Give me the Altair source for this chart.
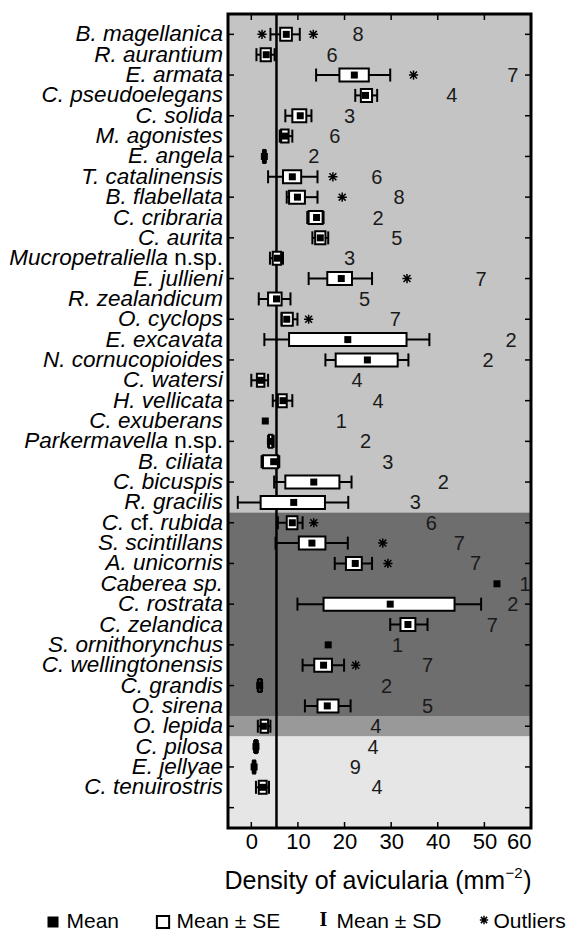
import altair as alt
import pandas as pd
import numpy as np

# ---------------- data ----------------
species = [
    "B. magellanica", "R. aurantium", "E. armata", "C. pseudoelegans", "C. solida",
    "M. agonistes", "E. angela", "T. catalinensis", "B. flabellata", "C. cribraria",
    "C. aurita", "Mucropetraliella n.sp.", "E. jullieni", "R. zealandicum", "O. cyclops",
    "E. excavata", "N. cornucopioides", "C. watersi", "H. vellicata", "C. exuberans",
    "Parkermavella n.sp.", "B. ciliata", "C. bicuspis", "R. gracilis", "C. cf. rubida",
    "S. scintillans", "A. unicornis", "Caberea sp.", "C. rostrata", "C. zelandica",
    "S. ornithorynchus", "C. wellingtonensis", "C. grandis", "O. sirena", "O. lepida",
    "C. pilosa", "E. jellyae", "C. tenuirostris",
]
mean = [7.5, 3.2, 22.1, 24.5, 10.5, 7.2, 2.8, 8.8, 9.9, 14.0,
        14.8, 5.6, 19.3, 5.4, 7.6, 20.7, 24.9, 2.0, 6.8, 3.0,
        4.1, 4.8, 13.4, 9.1, 8.8, 13.0, 22.3, 52.7, 29.8, 33.6,
        16.5, 15.5, 1.8, 16.3, 2.6, 1.0, 0.6, 2.4]
se_lo = [6.2, 2.0, 18.9, 23.5, 8.8, 6.4, 2.6, 6.8, 8.1, 12.3,
         13.7, 4.6, 16.3, 3.6, 6.5, 8.1, 18.1, 1.2, 5.7, None,
         3.8, 2.5, 7.3, 2.0, 7.6, 10.2, 20.3, None, 15.5, 32.0,
         None, 13.5, 1.6, 14.2, 2.0, 0.8, 0.4, 1.6]
se_hi = [8.7, 4.2, 25.2, 25.9, 11.8, 8.0, 3.0, 10.7, 11.5, 15.3,
         15.9, 6.4, 21.6, 6.5, 8.9, 33.3, 31.4, 2.8, 7.6, None,
         4.5, 5.7, 18.9, 15.8, 9.9, 15.9, 23.7, None, 43.6, 35.2,
         None, 17.3, 2.1, 18.7, 3.6, 1.2, 0.8, 3.3]
sd_lo = [4.1, 1.1, 13.9, 22.3, 7.3, 6.1, 2.5, 3.6, 7.6, 12.0,
         13.1, 4.0, 12.3, 1.6, 6.5, 2.8, 15.9, 0.0, 4.6, None,
         3.6, 2.2, 4.9, -2.9, 5.7, 5.2, 17.9, None, 9.9, 29.8,
         None, 11.0, 1.4, 11.5, 1.4, 0.6, 0.3, 1.0]
sd_hi = [10.4, 5.0, 29.8, 27.0, 12.9, 8.8, 3.1, 14.2, 14.2, 15.5,
         16.5, 6.8, 25.9, 8.4, 9.9, 38.2, 33.7, 3.6, 8.8, None,
         4.8, 6.0, 21.5, 20.8, 11.0, 20.7, 25.9, None, 49.3, 37.8,
         None, 19.9, 2.3, 21.3, 4.1, 1.4, 0.9, 3.8]
n_count = [8, 6, 7, 4, 3, 6, 2, 6, 8, 2,
           5, 3, 7, 5, 7, 2, 2, 4, 4, 1,
           2, 3, 2, 3, 6, 7, 7, 1, 2, 7,
           1, 7, 2, 5, 4, 4, 9, 4]
n_xpos = [22.9, 17.3, 56.1, 43.0, 21.1, 17.9, 13.4, 26.9, 31.7, 27.2,
          31.2, 21.1, 49.3, 24.3, 30.9, 55.7, 50.8, 22.7, 27.2, 19.3,
          24.5, 29.3, 41.2, 35.2, 38.6, 44.6, 48.1, 58.7, 56.1, 51.7,
          31.4, 37.8, 29.0, 37.8, 26.7, 26.1, 22.3, 27.0]
outlier_row = [1, 1, 3, 8, 9, 13, 15, 25, 26, 27, 32]
outlier_val = [2.3, 13.3, 34.8, 17.5, 19.5, 33.4, 12.3, 13.4, 28.2, 29.3, 22.4]
reference_value = [5.4]
band_start = [0, 24.5, 34.5, 35.5]
band_end = [24.5, 34.5, 35.5, 40]
band_color = ["#c4c4c4", "#6e6e6e", "#999999", "#e6e6e6"]
x_ticks = [0, 10, 20, 30, 40, 50, 60]
y_ticks = list(range(1, 40, 2))
legend_labels = ["Mean", "Mean \u00b1 SE", "Mean \u00b1 SD", "Outliers"]
title_main = "Density of avicularia (mm"
title_sup = "\u22122"
title_close = ")"

# ---------------- layout ----------------
W, H = 303, 814
X0, X1 = -5, 60
FONT = "Liberation Sans"
LABEL_SIZE = 22.5

def px2v(px):
    return X0 + px * (X1 - X0) / W

CW = {' ': .278, '.': .278, 'a': .556, 'b': .556, 'c': .5, 'd': .556, 'e': .556, 'f': .278,
      'g': .556, 'h': .556, 'i': .222, 'j': .222, 'k': .5, 'l': .222, 'm': .833, 'n': .556,
      'o': .556, 'p': .556, 'q': .556, 'r': .333, 's': .5, 't': .278, 'u': .556, 'v': .5,
      'w': .722, 'x': .5, 'y': .5, 'z': .5, 'C': .722, 'D': .722, '(': .333, ')': .333}

def tw(s, size):
    return sum(CW.get(ch, .6) for ch in s) * size

label_parts = {
    "Mucropetraliella n.sp.": [("Mucropetraliella", True), ("n.sp.", False)],
    "Parkermavella n.sp.": [("Parkermavella", True), ("n.sp.", False)],
    "C. cf. rubida": [("C.", True), ("cf.", False), ("rubida", True)],
}

rows = list(range(1, len(species) + 1))
df = pd.DataFrame({"row": rows, "species": species, "mean": mean,
                   "se_lo": se_lo, "se_hi": se_hi, "sd_lo": sd_lo, "sd_hi": sd_hi,
                   "n": n_count, "npos": n_xpos})
df_err = df.dropna(subset=["se_lo"]).copy()
df_err["ylo"] = df_err["row"] - 0.32
df_err["yhi"] = df_err["row"] + 0.32
caps = pd.concat([
    pd.DataFrame({"val": df_err["sd_lo"], "ylo": df_err["ylo"], "yhi": df_err["yhi"]}),
    pd.DataFrame({"val": df_err["sd_hi"], "ylo": df_err["ylo"], "yhi": df_err["yhi"]}),
])
df_out = pd.DataFrame({"row": outlier_row, "val": outlier_val})
df_bands = pd.DataFrame({"y0": band_start, "y1": band_end, "c": band_color})

seg_rows = []
for r, name in zip(rows, species):
    parts = label_parts.get(name, [(name, True)])
    right = -5.0
    for text, ital in reversed(parts):
        seg_rows.append({"row": r, "text": text, "ital": ital, "xv": px2v(right)})
        right -= tw(text, LABEL_SIZE) + tw(" ", LABEL_SIZE)
df_lab = pd.DataFrame(seg_rows)

x_scale = alt.Scale(domain=[X0, X1], nice=False, zero=False)
y_scale = alt.Scale(domain=[0, 40], reverse=True, nice=False, zero=False)
x_axis = alt.Axis(values=x_ticks, tickSize=0, domain=False, grid=False, labelFontSize=22,
                  labelFont=FONT, labelColor="black", labelPadding=3, title=None)

def X(f):
    return alt.X(f, scale=x_scale, axis=x_axis)

def Y(f):
    return alt.Y(f, scale=y_scale, axis=None)

bands = alt.Chart(df_bands).mark_rect().encode(
    x=alt.value(0), x2=alt.value(W), y=Y("y0:Q"), y2="y1:Q",
    color=alt.Color("c:N", scale=None))

vline = alt.Chart(pd.DataFrame({"v": reference_value})).mark_rule(
    color="black", strokeWidth=2.5).encode(x=X("v:Q"), y=alt.value(0), y2=alt.value(H))

whisk = alt.Chart(df_err).mark_rule(color="black", strokeWidth=2).encode(
    x=X("sd_lo:Q"), x2="sd_hi:Q", y=Y("row:Q"))
capm = alt.Chart(caps).mark_rule(color="black", strokeWidth=2).encode(
    x=X("val:Q"), y=Y("ylo:Q"), y2="yhi:Q")
box = alt.Chart(df_err).mark_rect(fill="white", stroke="black", strokeWidth=2).encode(
    x=X("se_lo:Q"), x2="se_hi:Q", y=Y("ylo:Q"), y2="yhi:Q")
means = alt.Chart(df).mark_square(size=49, color="black", opacity=1).encode(
    x=X("mean:Q"), y=Y("row:Q"))

star = "M-1,0L1,0M0,-1L0,1M-0.75,-0.75L0.75,0.75M-0.75,0.75L0.75,-0.75"
outl = alt.Chart(df_out).mark_point(shape=star, size=85, filled=False, stroke="black",
                                    strokeWidth=1.5, opacity=1).encode(
    x=X("val:Q"), y=Y("row:Q"))

ncount = alt.Chart(df).mark_text(font=FONT, fontSize=20, color="#1a1a1a",
                                 align="center", baseline="middle", dy=1).encode(
    x=X("npos:Q"), y=Y("row:Q"), text="n:N")

lab_it = alt.Chart(df_lab[df_lab["ital"]]).mark_text(
    font=FONT, fontSize=LABEL_SIZE, fontStyle="italic", align="right", baseline="middle",
    color="black").encode(x=X("xv:Q"), y=Y("row:Q"), text="text:N")
lab_up = alt.Chart(df_lab[~df_lab["ital"]]).mark_text(
    font=FONT, fontSize=LABEL_SIZE, align="right", baseline="middle",
    color="black").encode(x=X("xv:Q"), y=Y("row:Q"), text="text:N")

# inward ticks
df_xt = pd.DataFrame({"v": x_ticks})
df_yt = pd.DataFrame({"r": y_ticks})
xt_b = alt.Chart(df_xt).mark_rule(color="black", strokeWidth=1.5).encode(
    x=X("v:Q"), y=alt.value(H - 6), y2=alt.value(H))
xt_t = alt.Chart(df_xt).mark_rule(color="black", strokeWidth=1.5).encode(
    x=X("v:Q"), y=alt.value(0), y2=alt.value(6))
yt_l = alt.Chart(df_yt).mark_rule(color="black", strokeWidth=1.5).encode(
    y=Y("r:Q"), x=alt.value(0), x2=alt.value(6))
yt_r = alt.Chart(df_yt).mark_rule(color="black", strokeWidth=1.5).encode(
    y=Y("r:Q"), x=alt.value(W - 6), x2=alt.value(W))

border = alt.Chart(pd.DataFrame({"a": [0]})).mark_rect(
    fillOpacity=0, stroke="black", strokeWidth=3).encode(
    x=alt.value(0), x2=alt.value(W), y=alt.value(0), y2=alt.value(H))

# axis title with superscript
TS = 25
tot = tw(title_main, TS) + 0.584 * 15 + 0.556 * 15 + tw(title_close, TS)
tstart = W / 2 - 2 - tot / 2
TY = 867
df_t = pd.DataFrame({"t": [title_main, title_close],
                     "xv": [px2v(tstart), px2v(tstart + tw(title_main, TS) + 1.14 * 15 + 1)]})
tmain = alt.Chart(df_t).mark_text(font=FONT, fontSize=TS, align="left", baseline="middle",
                                  color="black").encode(
    x=X("xv:Q"), y=alt.value(TY), text="t:N")
tsup = alt.Chart(pd.DataFrame({"t": [title_sup],
                               "xv": [px2v(tstart + tw(title_main, TS) + 0.5)]})).mark_text(
    font=FONT, fontSize=15, align="left", baseline="middle", color="black").encode(
    x=X("xv:Q"), y=alt.value(TY - 8), text="t:N")

# legend
LY = 908
leg_text_px = [-161.5, -51.5, 108.5, 265.5]
df_leg = pd.DataFrame({"t": legend_labels, "xv": [px2v(p) for p in leg_text_px]})
leg_txt = alt.Chart(df_leg).mark_text(font=FONT, fontSize=21, align="left",
                                      baseline="middle", color="black").encode(
    x=X("xv:Q"), y=alt.value(LY), text="t:N")
leg_sq = alt.Chart(pd.DataFrame({"xv": [px2v(-175)]})).mark_square(
    size=121, color="black", opacity=1).encode(x=X("xv:Q"), y=alt.value(LY))
leg_osq = alt.Chart(pd.DataFrame({"xv": [px2v(-65)]})).mark_square(
    size=150, filled=False, stroke="black", strokeWidth=2, opacity=1).encode(
    x=X("xv:Q"), y=alt.value(LY))
leg_i = alt.Chart(pd.DataFrame({"t": ["I"], "xv": [px2v(95.5)]})).mark_text(
    font="Liberation Serif", fontWeight="bold", fontSize=20, align="center",
    baseline="middle", color="black").encode(x=X("xv:Q"), y=alt.value(LY - 2), text="t:N")
leg_star = alt.Chart(pd.DataFrame({"xv": [px2v(256)]})).mark_point(
    shape=star, size=70, filled=False, stroke="black", strokeWidth=1.5, opacity=1).encode(
    x=X("xv:Q"), y=alt.value(LY - 2))

chart = alt.layer(
    bands, vline, whisk, box, capm, means, outl, ncount, lab_it, lab_up,
    xt_b, xt_t, yt_l, yt_r, border, tmain, tsup, leg_txt, leg_sq, leg_osq, leg_i, leg_star
).properties(
    width=W, height=H,
    autosize=alt.AutoSizeParams(type="none"),
    padding={"left": 220, "top": 6, "right": 40, "bottom": 104},
).configure_view(strokeWidth=0)

chart.save("out.html", embed_options={"renderer": "svg", "actions": False})
